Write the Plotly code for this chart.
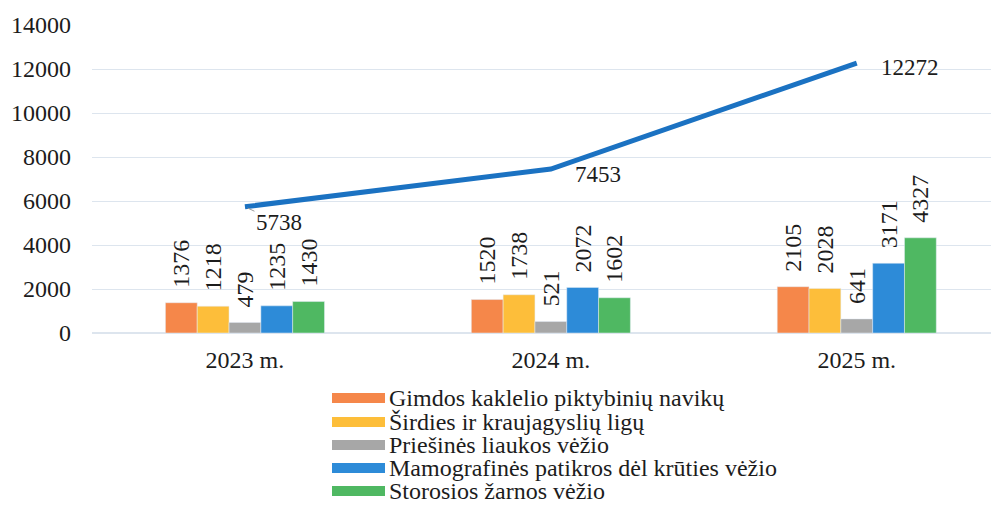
import plotly.graph_objects as go

years = ["2023 m.", "2024 m.", "2025 m."]
series_names = [
    "Gimdos kaklelio piktybinių navikų",
    "Širdies ir kraujagyslių ligų",
    "Priešinės liaukos vėžio",
    "Mamografinės patikros dėl krūties vėžio",
    "Storosios žarnos vėžio",
]
gimdos = [1376, 1520, 2105]
sirdies = [1218, 1738, 2028]
priesines = [479, 521, 641]
mamografines = [1235, 2072, 3171]
storosios = [1430, 1602, 4327]
total = [5738, 7453, 12272]
y_ticks = [0, 2000, 4000, 6000, 8000, 10000, 12000, 14000]

colors = ["#F5874A", "#FDBE3A", "#A7A7A7", "#2D8BD8", "#4FB862"]
font_family = "Liberation Serif"
txt_col = "#1c1c1c"

# page is rendered with an 8px body offset
off = 8
fig_w, fig_h = 999 - off, 505 - off
plot_left = 92 - off
plot_top = 25 - off
plot_bottom = 333 - off
plot_w = fig_w - plot_left
plot_h = plot_bottom - plot_top

fig = go.Figure()
for name, vals, col in zip(series_names, [gimdos, sirdies, priesines, mamografines, storosios], colors):
    fig.add_trace(go.Bar(
        x=years, y=vals, name=name, marker_color=col,
        text=["\u00a0\u00a0" + str(v) for v in vals], textposition="outside", textangle=-90,
        constraintext="none",
        textfont=dict(size=24, color=txt_col, family=font_family),
        cliponaxis=False, showlegend=False,
    ))

fig.add_trace(go.Scatter(
    x=years, y=total, mode="lines", showlegend=False,
    line=dict(color="#1B72C2", width=5),
    cliponaxis=False,
))

# line value labels (first one with a small leader line)
fig.add_annotation(
    x=years[0], y=total[0], xref="x", yref="y", text=str(total[0]),
    showarrow=True, arrowhead=0, arrowwidth=1, arrowcolor="#9a9a9a",
    ax=34, ay=16, standoff=3,
    font=dict(size=23, color=txt_col, family=font_family),
)
label_shift = [(22, -5), (22, -4)]
for x, v, (dx, dy) in zip(years[1:], total[1:], label_shift):
    fig.add_annotation(
        x=x, y=v, xref="x", yref="y", text=str(v), showarrow=False,
        xanchor="left", yanchor="middle", xshift=dx, yshift=dy,
        font=dict(size=23, color=txt_col, family=font_family),
    )

# legend drawn below the plot (page pixel rows)
legend_rows_px = [398, 422, 445, 468, 491]
for name, col, py in zip(series_names, colors, legend_rows_px):
    yc = (plot_bottom - (py - off)) / plot_h
    fig.add_shape(
        type="rect", xref="paper", yref="paper",
        x0=(332 - off - plot_left) / plot_w, x1=(385 - off - plot_left) / plot_w,
        y0=yc - 5 / plot_h, y1=yc + 5 / plot_h,
        fillcolor=col, line=dict(width=0),
    )
    fig.add_annotation(
        x=(387 - off - plot_left) / plot_w, y=yc, xref="paper", yref="paper",
        text=name, showarrow=False, xanchor="left", yanchor="middle",
        font=dict(size=24, color=txt_col, family=font_family),
    )

fig.update_layout(
    width=fig_w, height=fig_h,
    margin=dict(l=plot_left, r=0, t=plot_top, b=fig_h - plot_bottom, autoexpand=False),
    paper_bgcolor="white", plot_bgcolor="white",
    barmode="group", bargap=0.48, bargroupgap=0,
    font=dict(family=font_family, size=24, color=txt_col),
    showlegend=False,
    xaxis=dict(
        type="category", range=[-0.5, 2.465], showgrid=False, showline=False,
        ticks="", tickfont=dict(size=24, family=font_family), automargin=False,
        ticklabelstandoff=10,
    ),
    yaxis=dict(
        range=[0, 14000], tickvals=y_ticks, tickformat="d", showgrid=True,
        gridcolor="#DDE5EE", gridwidth=1, zeroline=True, zerolinecolor="#DDE5EE",
        showline=False, ticks="", tickfont=dict(size=24, family=font_family),
        ticklabelstandoff=20, automargin=False,
    ),
)

fig.write_html("out.html")
